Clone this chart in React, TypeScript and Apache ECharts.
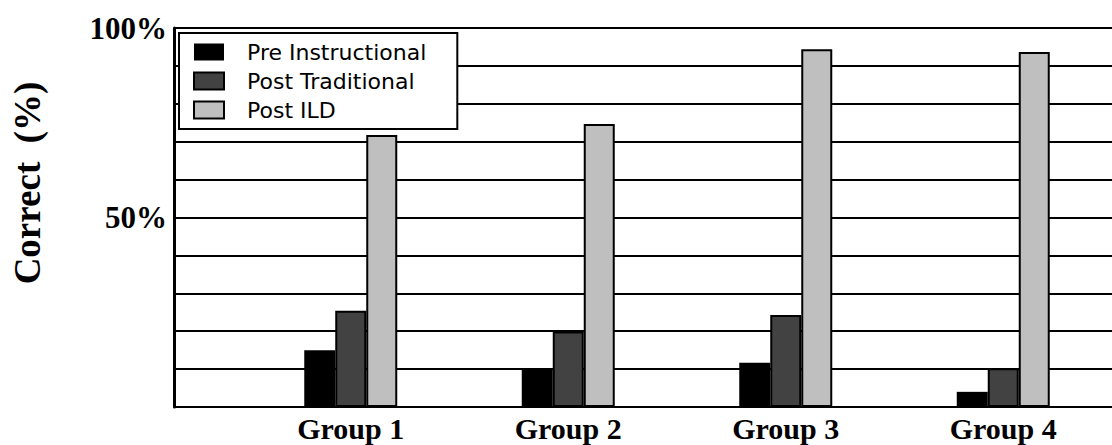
import React, { useEffect, useRef } from 'react';
import * as echarts from 'echarts';

const groups = ['Group 1', 'Group 2', 'Group 3', 'Group 4'];
const seriesNames = ['Pre Instructional', 'Post Traditional', 'Post ILD'];
const preInstructional = [15, 10.3, 11.7, 4];
const postTraditional = [25.4, 19.9, 24.3, 10.2];
const postILD = [71.8, 74.7, 94.4, 93.7];
const yTicksShown = [50, 100];
const yTitle = 'Correct  (%)';

export default function App() {
  const ref = useRef<HTMLDivElement>(null);
  useEffect(() => {
    const chart = echarts.init(ref.current!, null, { renderer: 'svg' });
    const serif = '"Liberation Serif", "Times New Roman", serif';
    const colors = ['#000000', '#424242', '#bfbfbf'];
    const values = [preInstructional, postTraditional, postILD];
    chart.setOption({
      animation: false,
      backgroundColor: '#ffffff',
      grid: [
        { left: 174, right: 0, top: 28, bottom: 38 },
        { left: 242, width: 872, top: 28, bottom: 38 },
      ],
      xAxis: [
        { gridIndex: 0, type: 'value', min: 0, max: 1, show: false },
        {
          gridIndex: 1,
          type: 'category',
          data: groups,
          axisLine: { show: false },
          axisTick: { show: false },
          axisLabel: {
            fontFamily: serif,
            fontWeight: 'bold',
            fontSize: 30,
            lineHeight: 30,
            color: '#000',
            margin: 6,
          },
        },
      ],
      yAxis: [
        {
          gridIndex: 0,
          type: 'value',
          min: 0,
          max: 100,
          interval: 10,
          axisLine: { show: true, lineStyle: { color: '#000', width: 3 } },
          axisTick: { show: false },
          splitLine: { show: true, lineStyle: { color: '#000', width: 2 } },
          axisLabel: {
            formatter: (v: number) => (yTicksShown.includes(v) ? v + '%' : ''),
            fontFamily: serif,
            fontWeight: 'bold',
            fontSize: 31,
            color: '#000',
            margin: 7,
          },
        },
        { gridIndex: 1, type: 'value', min: 0, max: 100, show: false },
      ],
      legend: {
        orient: 'vertical',
        left: 179,
        top: 33,
        data: seriesNames,
        backgroundColor: '#fff',
        borderColor: '#000',
        borderWidth: 2,
        padding: [8, 31, 8, 14],
        itemWidth: 30,
        itemHeight: 17,
        itemGap: 7,
        icon: 'rect',
        selectedMode: false,
        textStyle: {
          fontFamily: '"DejaVu Sans", sans-serif',
          fontSize: 22,
          color: '#000',
          padding: [0, 0, 0, 18],
        },
      },
      graphic: [
        {
          type: 'text',
          x: 27,
          y: 183,
          rotation: Math.PI / 2,
          style: {
            text: yTitle,
            fontFamily: serif,
            fontWeight: 'bold',
            fontSize: 37,
            fill: '#000',
            align: 'center',
            verticalAlign: 'middle',
          },
        },
      ],
      series: seriesNames.map((name, i) => ({
        name,
        type: 'bar',
        xAxisIndex: 1,
        yAxisIndex: 1,
        data: values[i],
        barWidth: 31,
        barGap: '0%',
        itemStyle: { color: colors[i], borderColor: '#000', borderWidth: i === 0 ? 0 : 2 },
      })),
    });
    return () => chart.dispose();
  }, []);
  return <div ref={ref} style={{ position: 'absolute', left: 0, top: 0, width: 1112, height: 445 }} />;
}
